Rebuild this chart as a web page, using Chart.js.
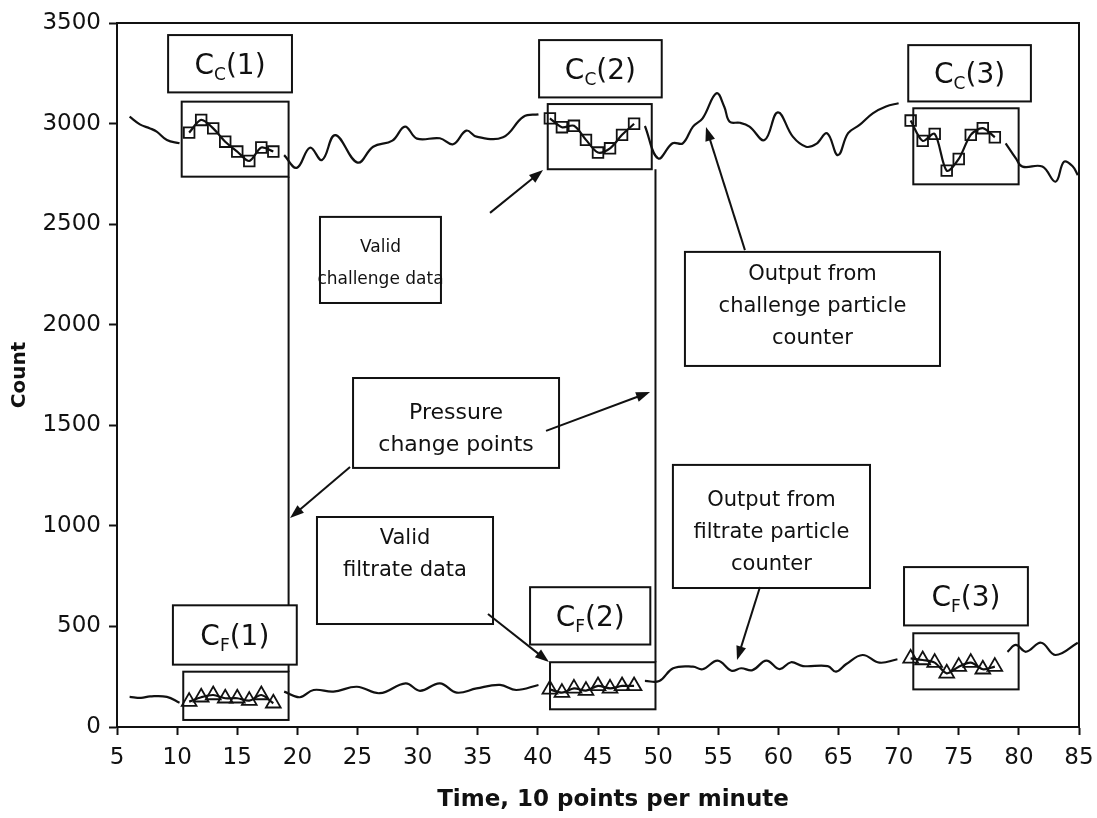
<!DOCTYPE html>
<html>
<head>
<meta charset="utf-8">
<script src="https://cdn.jsdelivr.net/npm/chart.js@4.4.1/dist/chart.umd.min.js"></script>
<style>
  html, body { margin: 0; padding: 0; background: #fff; }
  canvas { display: block; }
</style>
</head>
<body>
<canvas id="countChart" width="1097" height="818"></canvas>
<script>
// time axis (sample index, 10 points per minute) and count axis ticks
const xTicks = [5, 10, 15, 20, 25, 30, 35, 40, 45, 50, 55, 60, 65, 70, 75, 80, 85];
const yTicks = [0, 500, 1000, 1500, 2000, 2500, 3000, 3500];

// challenge particle counter output, pieces between the pressure changes
const chalAx = [6.05, 6.9, 7.75, 8.3, 9.15, 10.2];
const chalAy = [3034, 2996, 2976, 2960, 2918, 2902];
const chalBx = [18.9, 19.95, 21.05, 22.05, 23.15, 25.0, 26.3, 27.9, 28.95, 29.95, 31.85, 32.95, 34.05, 34.9, 37.1, 38.8, 40.05];
const chalBy = [2843, 2780, 2880, 2819, 2943, 2806, 2885, 2915, 2985, 2925, 2927, 2897, 2965, 2935, 2932, 3034, 3046];
const chalCx = [48.9, 50.0, 51.2, 52.05, 52.9, 53.7, 54.85, 55.5, 55.95, 56.8, 57.6, 58.85, 59.95, 61.2, 62.3, 63.15, 64.05, 64.95, 65.8, 66.75, 67.85, 68.95, 70.0];
const chalCy = [2988, 2827, 2902, 2902, 2985, 3026, 3151, 3084, 3009, 3004, 2985, 2918, 3056, 2935, 2885, 2899, 2952, 2843, 2952, 2993, 3051, 3085, 3101];
const chalDx = [78.9, 79.75, 80.3, 81.95, 83.05, 83.75, 84.45, 84.9];
const chalDy = [2902, 2827, 2786, 2786, 2711, 2810, 2789, 2744];

// valid challenge samples C_C(1..3)
const ccIdx1 = [11, 12, 13, 14, 15, 16, 17, 18];
const ccVal1 = [2955, 3018, 2976, 2910, 2861, 2814, 2881, 2861];
const ccIdx2 = [41, 42, 43, 44, 45, 46, 47, 48];
const ccVal2 = [3026, 2982, 2989, 2919, 2856, 2877, 2944, 2999];
const ccIdx3 = [71, 72, 73, 74, 75, 76, 77, 78];
const ccVal3 = [3015, 2914, 2949, 2766, 2824, 2944, 2977, 2932];

// filtrate particle counter output
const filtAx = [6.05, 7.0, 7.75, 9.15, 10.2];
const filtAy = [150, 145, 152, 150, 121];
const filtBx = [18.9, 20.2, 21.35, 23.0, 24.95, 26.85, 29.0, 30.2, 31.85, 33.25, 34.9, 36.85, 38.2, 40.05];
const filtBy = [176, 148, 184, 176, 200, 168, 217, 180, 217, 171, 192, 209, 184, 209];
const filtCx = [48.9, 50.1, 51.25, 52.9, 53.7, 54.95, 56.1, 56.9, 57.85, 59.0, 60.1, 61.05, 62.05, 64.1, 64.8, 65.65, 67.0, 68.4, 69.9];
const filtCy = [229, 229, 292, 300, 287, 330, 280, 292, 283, 330, 288, 322, 303, 303, 275, 313, 358, 320, 337];
const filtDx = [79.05, 79.75, 80.6, 81.85, 83.05, 84.9];
const filtDy = [374, 408, 374, 419, 358, 419];

// valid filtrate samples C_F(1..3)
const cfVal1 = [126, 148, 159, 143, 143, 131, 159, 118];
const cfVal2 = [187, 171, 192, 181, 204, 192, 204, 204];
const cfVal3 = [341, 333, 320, 267, 300, 320, 287, 300];

// join pieces into one dataset, with a null point between them so the line breaks
function pieces(list) {
  const out = [];
  list.forEach(([xs, ys], i) => {
    if (i > 0) out.push({ x: (out[out.length - 1].x + xs[0]) / 2, y: null });
    xs.forEach((v, k) => out.push({ x: v, y: ys[k] }));
  });
  return out;
}

// boxes / labels / arrows, all in data units [x1, x2, yTop, yBottom]
const sampleBoxes = [
  [10.38, 19.27, 3109, 2736], [40.82, 49.47, 3097, 2773], [71.22, 79.98, 3076, 2698],
  [10.51, 19.27, 275, 35], [41.01, 49.78, 322, 88], [71.22, 79.98, 466, 187]
];
const pressureLines = [[19.27, 2736, 275], [49.78, 2773, 322]];
const sampleLabels = [
  { box: [9.25, 19.55, 3440, 3155], sub: 'C', n: '1' },
  { box: [40.1, 50.3, 3415, 3130], sub: 'C', n: '2' },
  { box: [70.8, 81.0, 3390, 3110], sub: 'C', n: '3' },
  { box: [9.65, 19.95, 605, 310], sub: 'F', n: '1' },
  { box: [39.35, 49.35, 695, 410], sub: 'F', n: '2' },
  { box: [70.45, 80.75, 795, 505], sub: 'F', n: '3' }
];
const notes = [
  { box: [21.88, 31.94, 2536, 2108], mid: 2304, size: 17, lines: ['Valid', 'challenge data'] },
  { box: [52.23, 73.44, 2362, 1795], mid: 2088, size: 21, lines: ['Output from', 'challenge particle', 'counter'] },
  { box: [24.63, 41.76, 1735, 1288], mid: 1479, size: 22, lines: ['Pressure', 'change points'] },
  { box: [21.63, 36.27, 1044, 512], mid: 855, size: 21, lines: ['Valid', 'filtrate data'] },
  { box: [51.23, 67.62, 1303, 691], mid: 969, size: 21, lines: ['Output from', 'filtrate particle', 'counter'] }
];
const arrows = [
  [36.02, 2556, 40.43, 2769],
  [57.22, 2371, 53.98, 2983],
  [24.38, 1293, 19.39, 1039],
  [40.68, 1472, 49.33, 1665],
  [35.85, 562, 40.92, 323],
  [58.47, 696, 56.56, 333]
];

const FONT = "'DejaVu Sans', Verdana, sans-serif";
const INK = '#111';

const annotations = {
  id: 'annotations',
  afterDatasetsDraw(chart) {
    const { ctx, chartArea: a, scales } = chart;
    const X = v => scales.x.getPixelForValue(v);
    const Y = v => scales.y.getPixelForValue(v);
    ctx.save();
    ctx.strokeStyle = INK;
    ctx.fillStyle = INK;
    ctx.lineWidth = 2;

    // top and right frame
    ctx.beginPath();
    ctx.moveTo(a.left, a.top);
    ctx.lineTo(a.right, a.top);
    ctx.lineTo(a.right, a.bottom);
    ctx.stroke();

    pressureLines.forEach(([x, y1, y2]) => {
      ctx.beginPath();
      ctx.moveTo(X(x), Y(y1));
      ctx.lineTo(X(x), Y(y2));
      ctx.stroke();
    });

    sampleBoxes.forEach(([x1, x2, y1, y2]) => {
      ctx.strokeRect(X(x1), Y(y1), X(x2) - X(x1), Y(y2) - Y(y1));
    });

    // C_C(n) / C_F(n) labels
    sampleLabels.forEach(l => {
      const [x1, x2, y1, y2] = l.box;
      const L = X(x1), R = X(x2), T = Y(y1), B = Y(y2);
      ctx.fillStyle = '#fff';
      ctx.fillRect(L, T, R - L, B - T);
      ctx.strokeRect(L, T, R - L, B - T);
      ctx.fillStyle = INK;
      ctx.textBaseline = 'alphabetic';
      ctx.textAlign = 'left';
      const big = '28px ' + FONT, small = '17px ' + FONT;
      ctx.font = big;
      const wMain = ctx.measureText('C').width;
      const wRest = ctx.measureText('(' + l.n + ')').width;
      ctx.font = small;
      const wSub = ctx.measureText(l.sub).width;
      let cx = (L + R) / 2 - (wMain + wSub + wRest) / 2;
      const base = (T + B) / 2 + 10;
      ctx.font = big;
      ctx.fillText('C', cx, base);
      cx += wMain;
      ctx.font = small;
      ctx.fillText(l.sub, cx, base + 6);
      cx += wSub;
      ctx.font = big;
      ctx.fillText('(' + l.n + ')', cx, base);
    });

    // callout boxes
    ctx.textAlign = 'center';
    ctx.textBaseline = 'middle';
    notes.forEach(n => {
      const [x1, x2, y1, y2] = n.box;
      const L = X(x1), R = X(x2), T = Y(y1), B = Y(y2);
      ctx.fillStyle = '#fff';
      ctx.fillRect(L, T, R - L, B - T);
      ctx.strokeRect(L, T, R - L, B - T);
      ctx.fillStyle = INK;
      ctx.font = n.size + 'px ' + FONT;
      const gap = 32;
      const y0 = Y(n.mid) - gap * (n.lines.length - 1) / 2;
      n.lines.forEach((t, i) => ctx.fillText(t, (L + R) / 2, y0 + i * gap));
    });

    // arrows
    arrows.forEach(([xa, ya, xb, yb]) => {
      const x0 = X(xa), y0 = Y(ya), x1 = X(xb), y1 = Y(yb);
      const ang = Math.atan2(y1 - y0, x1 - x0);
      const len = 14, half = 5;
      ctx.beginPath();
      ctx.moveTo(x0, y0);
      ctx.lineTo(x1 - Math.cos(ang) * len * 0.8, y1 - Math.sin(ang) * len * 0.8);
      ctx.stroke();
      ctx.beginPath();
      ctx.moveTo(x1, y1);
      ctx.lineTo(x1 - Math.cos(ang) * len - Math.sin(ang) * half, y1 - Math.sin(ang) * len + Math.cos(ang) * half);
      ctx.lineTo(x1 - Math.cos(ang) * len + Math.sin(ang) * half, y1 - Math.sin(ang) * len - Math.cos(ang) * half);
      ctx.closePath();
      ctx.fill();
    });

    // axis titles
    ctx.font = 'bold 23px ' + FONT;
    ctx.fillText('Time, 10 points per minute', 613, 800);
    ctx.translate(20, 375);
    ctx.rotate(-Math.PI / 2);
    ctx.font = 'bold 20px ' + FONT;
    ctx.fillText('Count', 0, 0);
    ctx.restore();
  }
};

const lineStyle = { borderColor: INK, borderWidth: 2.2, pointRadius: 0, tension: 0.4, fill: false, spanGaps: false };

new Chart(document.getElementById('countChart'), {
  type: 'line',
  data: {
    datasets: [
      {
        label: 'Valid challenge data',
        data: pieces([[ccIdx1, ccVal1], [ccIdx2, ccVal2], [ccIdx3, ccVal3]]),
        ...lineStyle, tension: 0.3,
        pointStyle: 'rect', pointRadius: 7.5, pointBorderWidth: 1.8,
        pointBackgroundColor: 'rgba(0,0,0,0)', pointBorderColor: INK
      },
      {
        label: 'Valid filtrate data',
        data: pieces([[ccIdx1, cfVal1], [ccIdx2, cfVal2], [ccIdx3, cfVal3]]),
        ...lineStyle, tension: 0.3,
        pointStyle: 'triangle', pointRadius: 8.5, pointBorderWidth: 1.8,
        pointBackgroundColor: 'rgba(0,0,0,0)', pointBorderColor: INK
      },
      {
        label: 'Challenge counter',
        data: pieces([[chalAx, chalAy], [chalBx, chalBy], [chalCx, chalCy], [chalDx, chalDy]]),
        ...lineStyle
      },
      {
        label: 'Filtrate counter',
        data: pieces([[filtAx, filtAy], [filtBx, filtBy], [filtCx, filtCy], [filtDx, filtDy]]),
        ...lineStyle
      }
    ]
  },
  options: {
    responsive: false,
    animation: false,
    events: [],
    layout: { padding: { left: 0, right: 18, top: 23, bottom: 0 } },
    plugins: { legend: { display: false }, tooltip: { enabled: false } },
    scales: {
      x: {
        type: 'linear',
        min: xTicks[0],
        max: xTicks[xTicks.length - 1],
        afterBuildTicks: s => { s.ticks = xTicks.map(v => ({ value: v })); },
        afterFit: s => { s.height = 91; s.paddingLeft = 0; s.paddingRight = 0; },
        grid: { drawOnChartArea: false, color: INK, tickLength: 8, tickWidth: 2 },
        border: { color: INK, width: 2 },
        ticks: { color: INK, font: { family: FONT, size: 23 }, padding: 9, maxRotation: 0, callback: v => String(v) }
      },
      y: {
        min: yTicks[0],
        max: yTicks[yTicks.length - 1],
        afterBuildTicks: s => { s.ticks = yTicks.map(v => ({ value: v })); },
        afterFit: s => { s.width = 117; s.paddingTop = 0; s.paddingBottom = 0; },
        grid: { drawOnChartArea: false, color: INK, tickLength: 8, tickWidth: 2 },
        border: { color: INK, width: 2 },
        ticks: { color: INK, font: { family: FONT, size: 23 }, padding: 8, callback: v => String(v) }
      }
    }
  },
  plugins: [annotations]
});
</script>
</body>
</html>
